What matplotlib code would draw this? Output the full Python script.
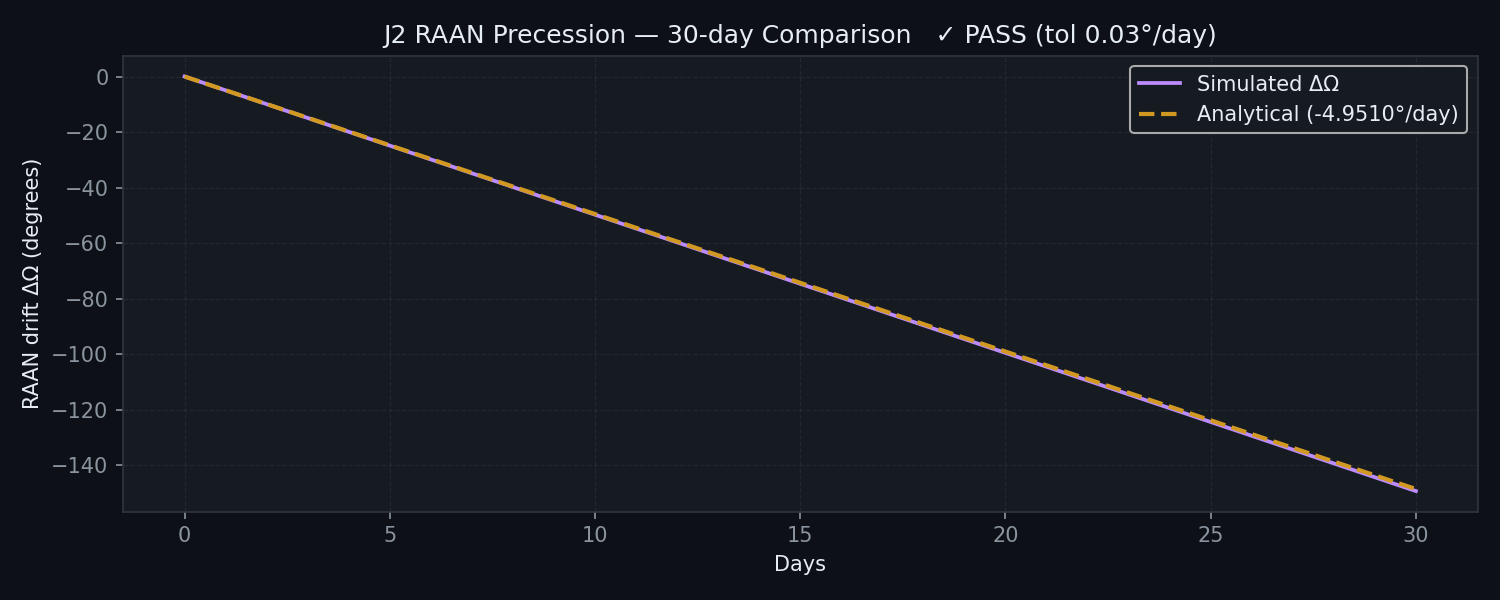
import matplotlib
matplotlib.use('Agg')
import matplotlib.pyplot as plt

# simulated RAAN drift, one sample per day (degrees)
days = list(range(31))
sim_drift = [0.0, -4.98, -9.95, -14.93, -19.90, -24.88, -29.85, -34.83, -39.80, -44.78,
             -49.75, -54.73, -59.70, -64.68, -69.65, -74.63, -79.60, -84.58, -89.55, -94.53,
             -99.50, -104.48, -109.45, -114.43, -119.40, -124.38, -129.35, -134.33, -139.30,
             -144.28, -149.25]
# analytical J2 rate -4.9510 deg/day
ana_drift = [0.0, -4.95, -9.90, -14.85, -19.80, -24.76, -29.71, -34.66, -39.61, -44.56,
             -49.51, -54.46, -59.41, -64.36, -69.31, -74.27, -79.22, -84.17, -89.12, -94.07,
             -99.02, -103.97, -108.92, -113.87, -118.82, -123.78, -128.73, -133.68, -138.63,
             -143.58, -148.53]
ana_rate = -4.9510
tol = 0.03

bg = '#0d1117'
panel = '#161b22'
edge = '#30363d'
txt = '#e6edf3'
tick_col = '#8b949e'

fig = plt.figure(figsize=(10, 4), dpi=150, facecolor=bg)
ax = fig.add_axes([0.082, 0.147, 0.903, 0.76])
ax.set_facecolor(panel)

ax.plot(days, sim_drift, color='#bc8cff', lw=1.8, label='Simulated ΔΩ')
ax.plot(days, ana_drift, color='#d29922', lw=2, ls='--', label=f'Analytical ({ana_rate:.4f}°/day)')

ax.set_title(f'J2 RAAN Precession — 30-day Comparison   ✓ PASS (tol {tol}°/day)',
             color=txt, fontsize=12)
ax.set_xlabel('Days', color=txt, fontsize=10)
ax.set_ylabel('RAAN drift ΔΩ (degrees)', color=txt, fontsize=10)
ax.tick_params(colors=tick_col, labelsize=10)
for s in ax.spines.values():
    s.set_color(edge)
ax.grid(True, color=edge, ls='--', lw=0.6, alpha=0.5)

leg = ax.legend(loc='upper right', fontsize=10, facecolor=panel, edgecolor='#aaaaaa',
                framealpha=1.0)
for t in leg.get_texts():
    t.set_color(txt)

fig.savefig('out.png', dpi=150, facecolor=bg)
